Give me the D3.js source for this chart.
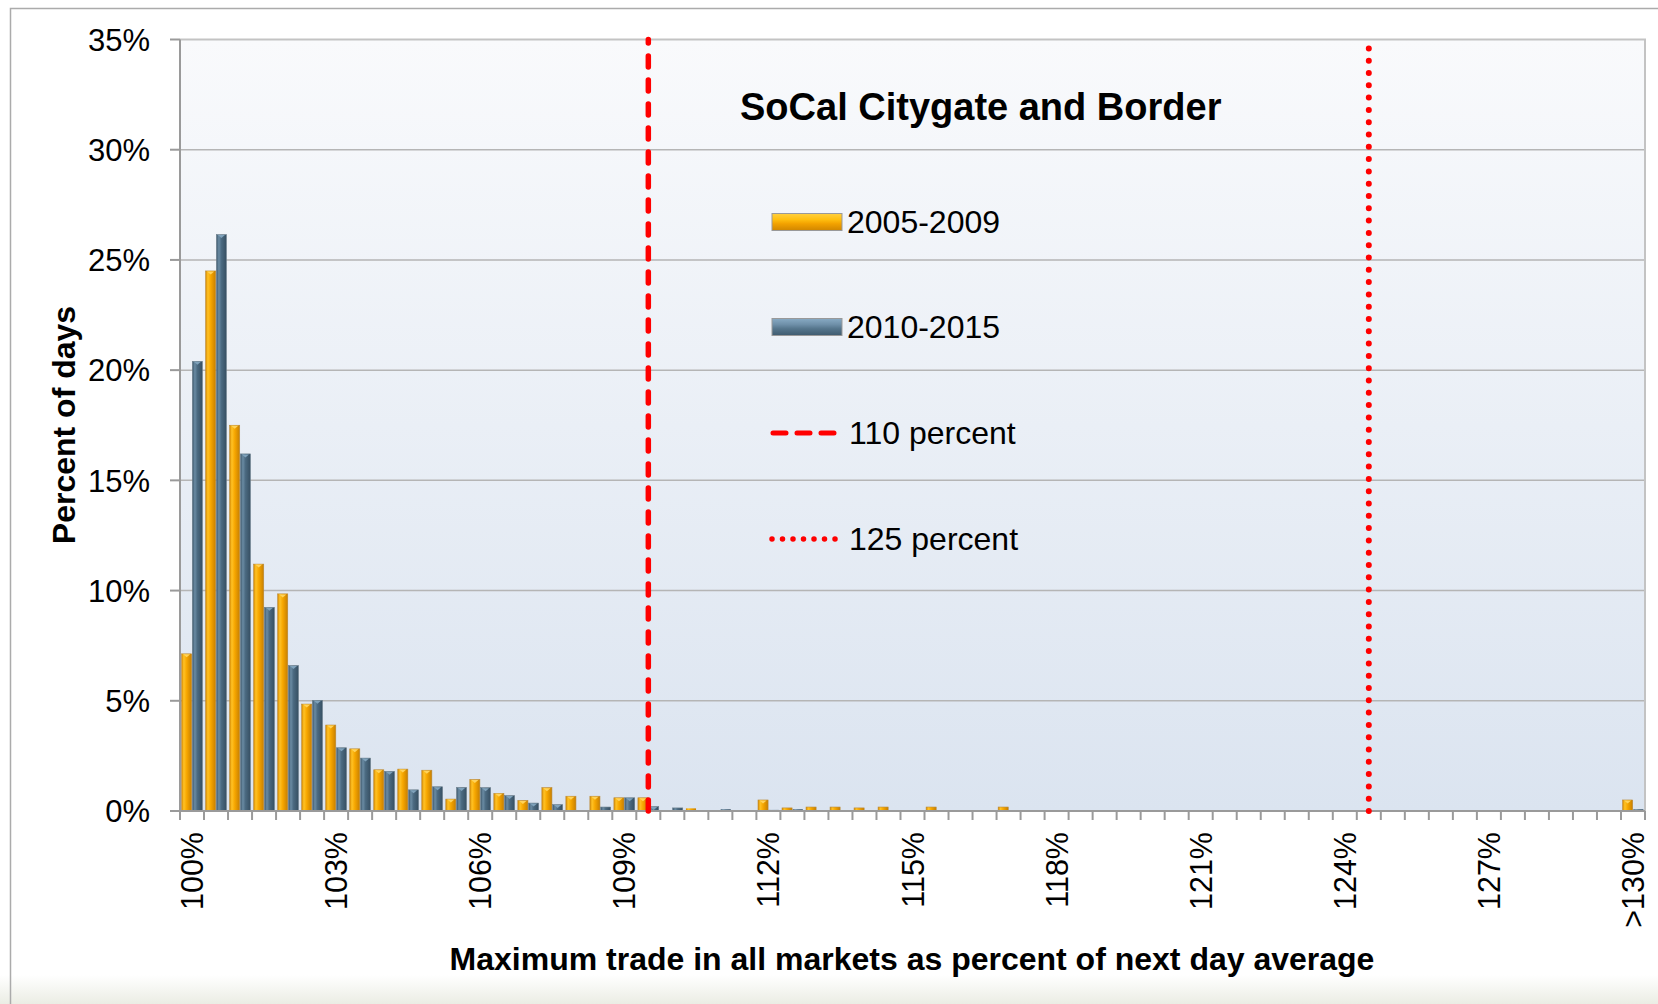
<!DOCTYPE html>
<html>
<head>
  <meta charset="utf-8">
  <script src="https://cdn.jsdelivr.net/npm/d3@7"></script>
  <style>
    body { margin: 0; background: #fff; }
    svg text { font-family: Arial, "Liberation Sans", sans-serif; fill: #000; }
  </style>
</head>
<body>
  <svg id="chart" width="1658" height="1004"></svg>
  <script>
    // bins of the max trade as percent of next day average (0.5 point steps)
    var categories = [
      "100%", "100.5%", "101%", "101.5%", "102%", "102.5%", "103%", "103.5%", "104%", "104.5%",
      "105%", "105.5%", "106%", "106.5%", "107%", "107.5%", "108%", "108.5%", "109%", "109.5%",
      "110%", "110.5%", "111%", "111.5%", "112%", "112.5%", "113%", "113.5%", "114%", "114.5%",
      "115%", "115.5%", "116%", "116.5%", "117%", "117.5%", "118%", "118.5%", "119%", "119.5%",
      "120%", "120.5%", "121%", "121.5%", "122%", "122.5%", "123%", "123.5%", "124%", "124.5%",
      "125%", "125.5%", "126%", "126.5%", "127%", "127.5%", "128%", "128.5%", "129%", "129.5%",
      ">130%"
    ];

    // percent of days
    var values0509 = [
      7.13, 24.5, 17.5, 11.2, 9.85, 4.85, 3.9, 2.82, 1.87, 1.9,
      1.85, 0.54, 1.43, 0.8, 0.48, 1.06, 0.67, 0.67, 0.6, 0.6,
      0.02, 0.12, 0.02, 0.02, 0.5, 0.14, 0.18, 0.18, 0.14, 0.18,
      0.02, 0.18, 0.02, 0, 0.18, 0.02, 0, 0, 0.02, 0.02,
      0, 0.04, 0.04, 0.02, 0, 0.03, 0, 0.03, 0.04, 0,
      0, 0, 0, 0.03, 0.02, 0.02, 0, 0.01, 0.02, 0,
      0.5
    ];
    var values1015 = [
      20.4, 26.15, 16.2, 9.24, 6.6, 5.02, 2.87, 2.4, 1.8, 0.96,
      1.1, 1.07, 1.06, 0.7, 0.36, 0.29, 0.04, 0.18, 0.6, 0.2,
      0.14, 0.02, 0.08, 0.02, 0.05, 0.08, 0, 0, 0, 0,
      0.04, 0, 0, 0, 0, 0, 0, 0, 0.02, 0,
      0, 0, 0, 0, 0, 0, 0, 0, 0, 0,
      0, 0.01, 0, 0, 0, 0, 0, 0, 0, 0,
      0.08
    ];

    var seriesNames = [ "2005-2009", "2010-2015" ];
    var tickLabels  = [ "100%", "103%", "106%", "109%", "112%", "115%", "118%", "121%", "124%", "127%", ">130%" ];
    var yTicks      = [ 0, 5, 10, 15, 20, 25, 30, 35 ];

    // threshold lines sit in the middle of these bins in the original
    var refNames = [ "110 percent", "125 percent" ];
    var refBins  = [ "109.5%", "124.5%" ];

    var chartTitle = "SoCal Citygate and Border";
    var xTitle = "Maximum trade in all markets as percent of next day average";
    var yTitle = "Percent of days";

    var svg = d3.select( "#chart" );
    var W = 1658, H = 1004;
    var pLeft = 180, pTop = 39.5, pRight = 1645, pBottom = 811;

    var defs = svg.append( "defs" );

    function addGradient ( id, x2, y2, stops ) {
      var g = defs.append( "linearGradient" )
        .attr( "id", id )
        .attr( "x1", 0 ).attr( "y1", 0 )
        .attr( "x2", x2 ).attr( "y2", y2 );
      for ( var i = 0 ; i < stops.length ; i++ ) {
        g.append( "stop" ).attr( "offset", stops[i][0] ).attr( "stop-color", stops[i][1] );
      }
    }

    addGradient( "plotBg", 0, 1, [ [ "0%", "#f9fafc" ], [ "100%", "#dbe4f0" ] ] );
    addGradient( "barOrange", 1, 0, [ [ "0%", "#d48700" ], [ "22%", "#ffc225" ], [ "50%", "#f7a700" ], [ "100%", "#c77f00" ] ] );
    addGradient( "barBlue", 1, 0, [ [ "0%", "#3b566a" ], [ "25%", "#6a8ba3" ], [ "50%", "#4b6a81" ], [ "100%", "#364f62" ] ] );
    addGradient( "keyOrange", 0, 1, [ [ "0%", "#ffd040" ], [ "35%", "#ffbf10" ], [ "60%", "#f3a200" ], [ "100%", "#d08600" ] ] );
    addGradient( "keyBlue", 0, 1, [ [ "0%", "#88aac4" ], [ "35%", "#6f90a9" ], [ "60%", "#55758c" ], [ "100%", "#3f5b6f" ] ] );
    addGradient( "bottomFade", 0, 1, [ [ "0%", "#ffffff" ], [ "100%", "#ebede4" ] ] );

    // outer frame
    svg.append( "rect" ).attr( "x", 0 ).attr( "y", 0 ).attr( "width", W ).attr( "height", H ).attr( "fill", "#fff" );
    svg.append( "rect" ).attr( "x", 0 ).attr( "y", 975 ).attr( "width", W ).attr( "height", 29 ).attr( "fill", "url(#bottomFade)" );
    svg.append( "path" )
      .attr( "d", "M10.5," + H + "V8.5H" + W )
      .attr( "fill", "none" ).attr( "stroke", "#ababab" ).attr( "stroke-width", 1.5 );

    var x = d3.scaleBand().domain( categories ).range( [ pLeft, pRight ] ).padding( 0 );
    var x1 = d3.scaleBand().domain( seriesNames ).range( [ 0, x.bandwidth() ] )
      .paddingInner( 0.06 ).paddingOuter( 0.15 );
    var y = d3.scaleLinear().domain( [ 0, 35 ] ).range( [ pBottom, pTop ] );

    // plot area
    svg.append( "rect" )
      .attr( "x", pLeft ).attr( "y", pTop )
      .attr( "width", pRight - pLeft ).attr( "height", pBottom - pTop )
      .attr( "fill", "url(#plotBg)" );

    svg.append( "g" ).selectAll( "line" )
      .data( yTicks.filter( function (d) { return d > 0 && d < 35; } ) )
      .enter().append( "line" )
      .attr( "x1", pLeft ).attr( "x2", pRight )
      .attr( "y1", function (d) { return y(d); } )
      .attr( "y2", function (d) { return y(d); } )
      .attr( "stroke", "#b5b5b5" ).attr( "stroke-width", 1.5 );

    svg.append( "path" )
      .attr( "d", "M" + pLeft + "," + pTop + "H" + pRight + "V" + pBottom )
      .attr( "fill", "none" ).attr( "stroke", "#c3c3c3" ).attr( "stroke-width", 2 );

    // bars
    var rows = categories.map( function (c, i) {
      return { cat: c, vals: [ values0509[i], values1015[i] ] };
    });
    var fills = [ "url(#barOrange)", "url(#barBlue)" ];
    var keyFills = [ "url(#keyOrange)", "url(#keyBlue)" ];
    var caps  = [ "#ffd35a", "#7fa2bb" ];
    var edges = [ "#b98a3a", "#6e808e" ];

    var groups = svg.append( "g" ).selectAll( "g" )
      .data( rows ).enter().append( "g" )
      .attr( "transform", function (d) { return "translate(" + x(d.cat) + ",0)"; } );

    groups.each( function (d) {
      var g = d3.select( this );
      for ( var s = 0 ; s < 2 ; s++ ) {
        var v = d.vals[s];
        if ( v <= 0 )
          continue;
        var bx = x1( seriesNames[s] );
        var bw = x1.bandwidth();
        var by = y( v );
        var bh = Math.max( pBottom - by, 0.8 );
        g.append( "rect" )
          .attr( "x", bx ).attr( "y", pBottom - bh )
          .attr( "width", bw ).attr( "height", bh )
          .attr( "fill", fills[s] )
          .attr( "stroke", edges[s] ).attr( "stroke-width", bh > 3 ? 0.6 : 0 );
        if ( bh > 4 ) {
          g.append( "path" )
            .attr( "d", "M" + ( bx + 1.5 ) + "," + ( by + 0.5 ) + "H" + ( bx + bw - 1.5 ) +
                        "L" + ( bx + bw / 2 ) + "," + ( by + 3.5 ) + "Z" )
            .attr( "fill", caps[s] );
        }
      }
    });

    // axes lines and ticks
    svg.append( "line" )
      .attr( "x1", pLeft ).attr( "x2", pLeft ).attr( "y1", pTop ).attr( "y2", pBottom )
      .attr( "stroke", "#9a9a9a" ).attr( "stroke-width", 2 );
    svg.append( "g" ).selectAll( "line" )
      .data( yTicks ).enter().append( "line" )
      .attr( "x1", 170 ).attr( "x2", pLeft )
      .attr( "y1", function (d) { return y(d); } ).attr( "y2", function (d) { return y(d); } )
      .attr( "stroke", "#9a9a9a" ).attr( "stroke-width", 2 );
    svg.append( "line" )
      .attr( "x1", pLeft ).attr( "x2", pRight ).attr( "y1", pBottom ).attr( "y2", pBottom )
      .attr( "stroke", "#9a9a9a" ).attr( "stroke-width", 2 );
    var bounds = categories.map( function (c) { return x(c); } ).concat( [ pRight ] );
    svg.append( "g" ).selectAll( "line" )
      .data( bounds ).enter().append( "line" )
      .attr( "x1", function (d) { return d; } ).attr( "x2", function (d) { return d; } )
      .attr( "y1", pBottom ).attr( "y2", pBottom + 9 )
      .attr( "stroke", "#9a9a9a" ).attr( "stroke-width", 2 );

    // tick labels
    svg.append( "g" ).selectAll( "text" )
      .data( yTicks ).enter().append( "text" )
      .attr( "x", 150 ).attr( "y", function (d) { return y(d); } )
      .attr( "dy", "0.36em" )
      .attr( "text-anchor", "end" )
      .style( "font-size", "31px" )
      .text( function (d) { return d + "%"; } );

    svg.append( "g" ).selectAll( "text" )
      .data( tickLabels ).enter().append( "text" )
      .attr( "transform", function (d) {
        return "translate(" + ( x(d) + x.bandwidth() / 2 + 11 ) + ",832) rotate(-90)";
      })
      .attr( "text-anchor", "end" )
      .style( "font-size", "30.5px" )
      .text( function (d) { return d; } );

    // axis titles
    svg.append( "text" )
      .attr( "x", 912 ).attr( "y", 970 )
      .attr( "text-anchor", "middle" )
      .style( "font-size", "32px" ).style( "font-weight", "bold" )
      .text( xTitle );
    svg.append( "text" )
      .attr( "transform", "translate(75,425) rotate(-90)" )
      .attr( "text-anchor", "middle" )
      .style( "font-size", "32px" ).style( "font-weight", "bold" )
      .text( yTitle );

    // threshold lines
    var refDash = [ "11,13", "0,12.3" ];
    var refWidth = [ 5.5, 6 ];
    for ( var r = 0 ; r < refBins.length ; r++ ) {
      var rx = x( refBins[r] ) + x.bandwidth() / 2;
      svg.append( "line" )
        .attr( "x1", rx ).attr( "x2", rx )
        .attr( "y1", pBottom ).attr( "y2", pTop )
        .attr( "stroke", "#ff0000" ).attr( "stroke-width", refWidth[r] )
        .attr( "stroke-linecap", "round" )
        .attr( "stroke-dasharray", refDash[r] );
    }

    // title + legend
    svg.append( "text" )
      .attr( "x", 740 ).attr( "y", 120 )
      .style( "font-size", "38px" ).style( "font-weight", "bold" )
      .text( chartTitle );

    var rowY = [ 222, 327, 433, 539 ];
    for ( var s = 0 ; s < 2 ; s++ ) {
      svg.append( "rect" )
        .attr( "x", 772 ).attr( "y", rowY[s] - 8.5 )
        .attr( "width", 70 ).attr( "height", 17 )
        .attr( "fill", keyFills[s] ).attr( "stroke", "#999" ).attr( "stroke-width", 1 );
      svg.append( "text" )
        .attr( "x", 847 ).attr( "y", rowY[s] + 11 )
        .style( "font-size", "32px" )
        .text( seriesNames[s] );
    }
    var legendDash = [ "13,11", "0,10.5" ];
    for ( var r = 0 ; r < refNames.length ; r++ ) {
      svg.append( "line" )
        .attr( "x1", r == 0 ? 773 : 772 ).attr( "x2", r == 0 ? 835 : 838 )
        .attr( "y1", rowY[r + 2] ).attr( "y2", rowY[r + 2] )
        .attr( "stroke", "#ff0000" ).attr( "stroke-width", r == 0 ? 5 : 5.5 )
        .attr( "stroke-linecap", "round" )
        .attr( "stroke-dasharray", legendDash[r] );
      svg.append( "text" )
        .attr( "x", 849 ).attr( "y", rowY[r + 2] + 11 )
        .style( "font-size", "32px" )
        .text( refNames[r] );
    }
  </script>
</body>
</html>
